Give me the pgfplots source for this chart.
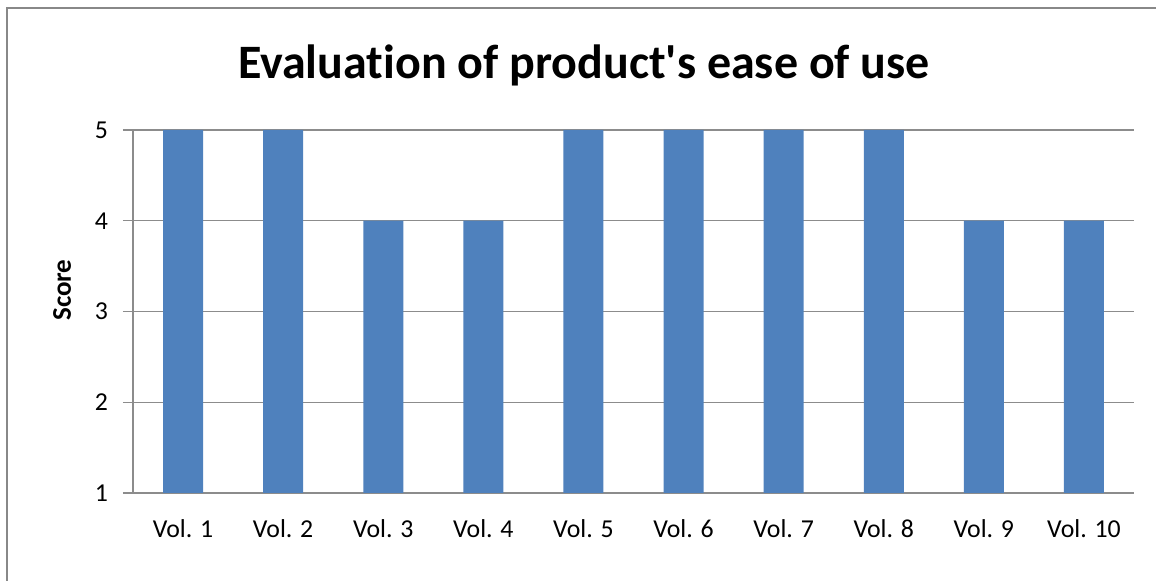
\documentclass[border=0pt]{standalone}
\usepackage{fontspec}
\setmainfont{Carlito}[Ligatures={NoCommon}]
\usepackage{pgfplots}
\pgfplotsset{compat=1.18}
\definecolor{barblue}{HTML}{4F81BD}
\definecolor{axisgray}{HTML}{8C8C8C}
\definecolor{framegray}{HTML}{888888}
\begin{document}
\begin{tikzpicture}
% 1 px of the reference = 0.5pt
\useasboundingbox (0,0) rectangle (578pt,290.5pt);
\begin{axis}[
  at={(66.5pt,44pt)}, anchor=south west,
  scale only axis,
  width=500.5pt, height=181.5pt,
  ybar, bar width=20pt, bar shift=0pt,
  xmin=-0.5, xmax=9.5,
  ymin=1, ymax=5,
  ytick={1,2,3,4,5},
  xtick={0,...,9},
  xticklabels={Vol. 1,Vol. 2,Vol. 3,Vol. 4,Vol. 5,Vol. 6,Vol. 7,Vol. 8,Vol. 9,Vol. 10},
  major x tick style={draw=none},
  extra x ticks={-0.5,0.5,...,9.5},
  extra x tick labels={},
  extra x tick style={grid=none, major tick length=4.5pt, tick style={draw=axisgray, line width=0.6pt}},
  axis x line*=bottom, axis y line*=left,
  axis line style={-, draw=axisgray, line width=0.6pt},
  every outer x axis line/.append style={-},
  every outer y axis line/.append style={-},
  tick align=outside,
  major tick length=5pt,
  ytick style={draw=axisgray, line width=0.6pt},
  ymajorgrids,
  major grid style={draw=axisgray, line width=0.6pt},
  /pgf/number format/assume math mode=true,
  ticklabel style={font=\fontsize{12.9}{15}\selectfont, text=black},
  yticklabel style={xshift=-4pt},
  xticklabel style={yshift=-5pt},
  title={Evaluation of product\textquotesingle s ease of use},
  title style={at={(axis description cs:0.4505,1.110)}, anchor=base, font=\bfseries\fontsize{24}{28}\selectfont},
  ylabel={Score},
  ylabel style={at={(axis description cs:-0.0709,0.559)}, anchor=center, font=\bfseries\fontsize{13.5}{16}\selectfont},
  clip=true,
]
\addplot[fill=barblue, draw=none] coordinates {
(0,5) (1,5) (2,4) (3,4) (4,5) (5,5) (6,5) (7,5) (8,4) (9,4)
};
\end{axis}
\draw[framegray, line width=1pt] (3.5pt,0) -- (3.5pt,286.5pt) -- (578pt,286.5pt);
\end{tikzpicture}
\end{document}
